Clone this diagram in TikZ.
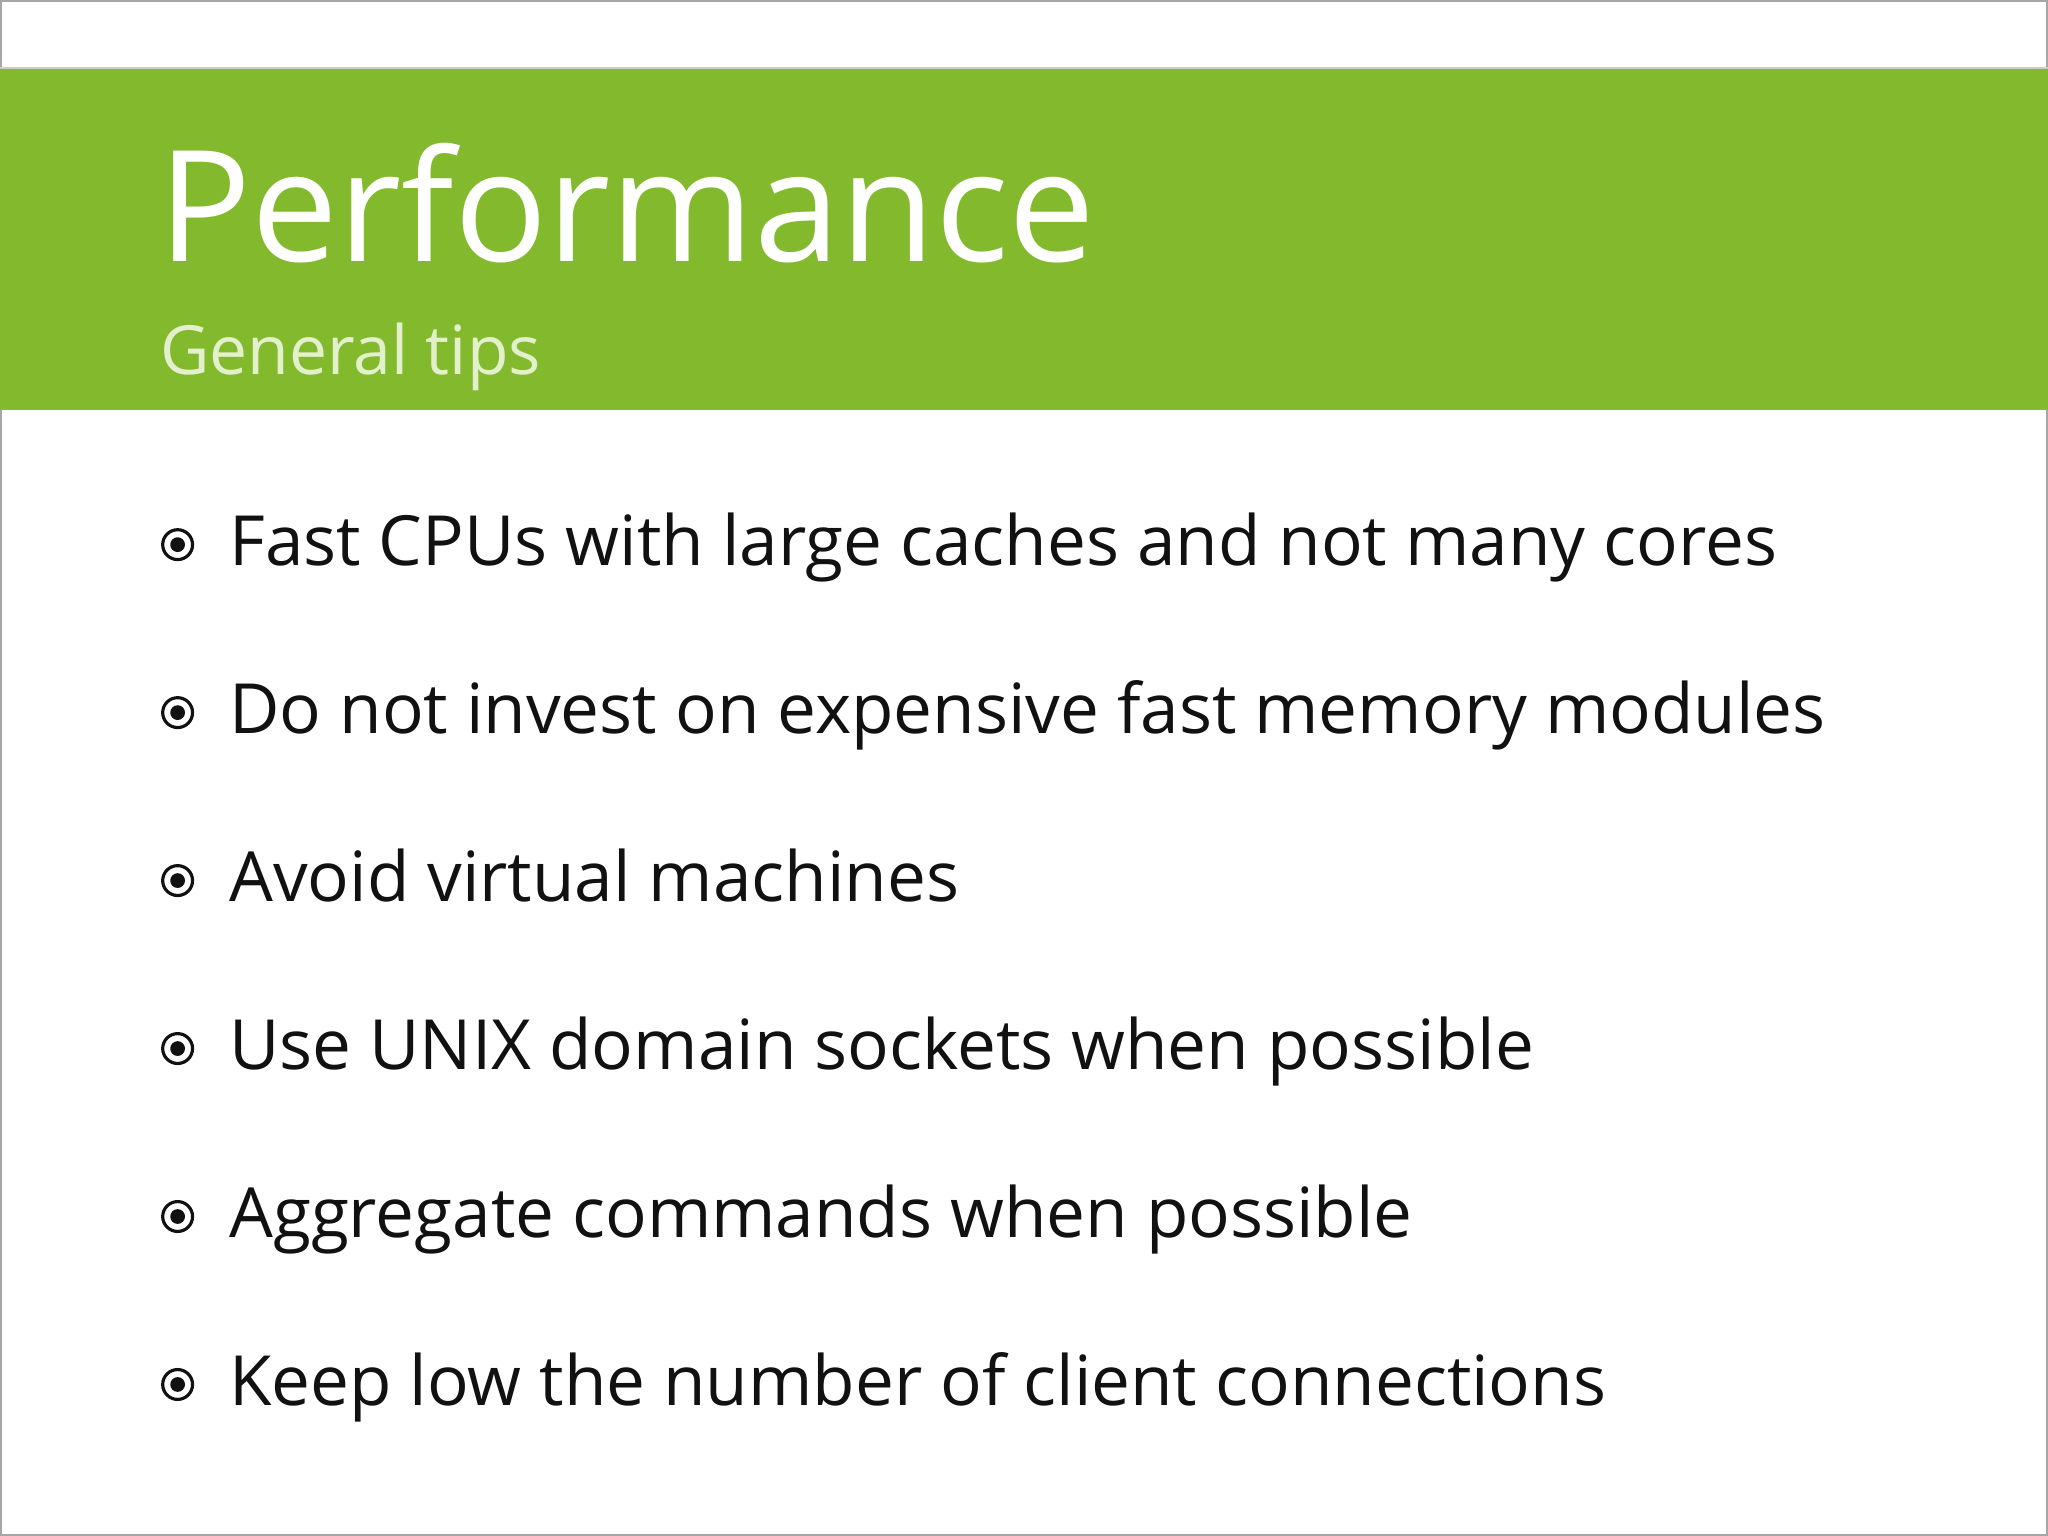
\documentclass[tikz,border=0pt]{standalone}
\usepackage{fontspec}
\setmainfont{Open Sans}
\definecolor{band}{HTML}{83BA2D}
\definecolor{sub}{HTML}{E2F0CC}
\definecolor{txt}{HTML}{111111}
\begin{document}
\begin{tikzpicture}[x=0.013061cm,y=-0.013061cm,
  item/.style={anchor=base west,inner sep=0pt,text=txt,font=\fontsize{19.7}{24}\selectfont},
  bul/.style={circle,draw=txt,line width=0.9pt,minimum size=8.5pt,inner sep=0pt,path picture={\fill[txt] (path picture bounding box.center) circle (2.1pt);}}]
\useasboundingbox (0,0) rectangle (1568,1176);
\fill[white] (0,0) rectangle (1568,1176);
\draw[gray!70,line width=0.8pt] (0.5,0.5) rectangle (1567.5,1175.5);
\fill[band] (0,53) rectangle (1568,314);
\draw[gray!40] (0,52) -- (1568,52);
\node[anchor=base west,inner sep=0pt,text=white,font=\fontsize{44}{52}\selectfont] (title) at (121,200) {Performance};
\node[anchor=base west,inner sep=0pt,text=sub,font=\fontsize{19.3}{23}\selectfont] (subtitle) at (122,287) {General tips};
\foreach \t [count=\i] in {Fast CPUs with large caches and not many cores,Do not invest on expensive fast memory modules,Avoid virtual machines,Use UNIX domain sockets when possible,Aggregate commands when possible,Keep low the number of client connections}{
  \pgfmathsetmacro{\yy}{433+128.6*(\i-1)}
  \node[item] (t\i) at (175,\yy) {\t};
  \node[bul] (b\i) at (136,\yy-16) {};
}
\end{tikzpicture}
\end{document}
